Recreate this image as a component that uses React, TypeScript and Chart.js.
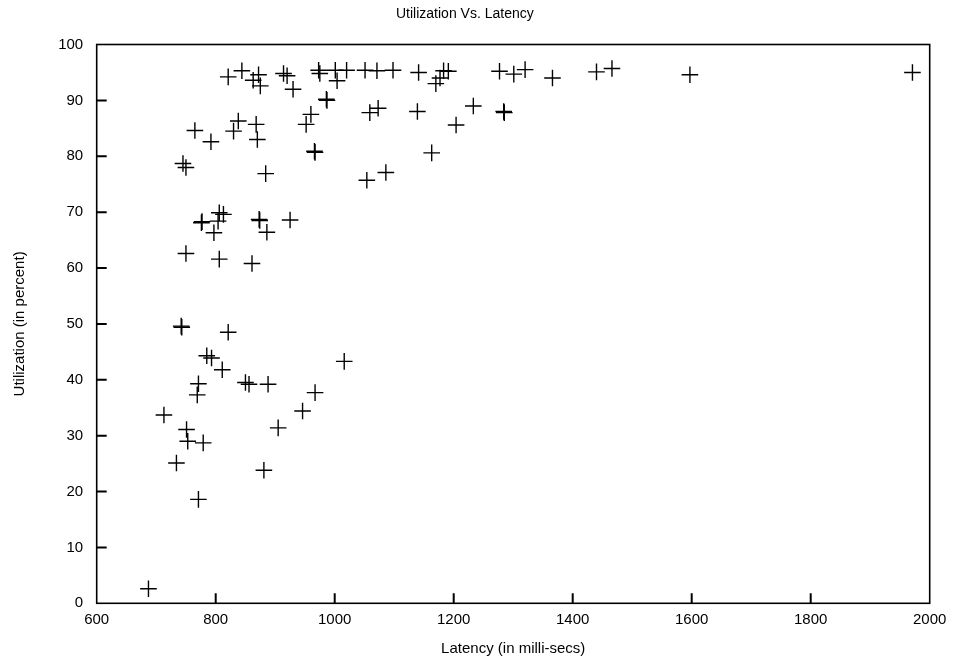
import { useEffect, useRef } from "react";
import { Chart, registerables } from "chart.js";

Chart.register(...registerables);

// Measured samples: request latency (ms) against server utilization (%)
const latencyMs = [
  821, 844, 863, 872, 875, 914, 920, 930, 973, 975, 1001, 1004, 1020, 1051, 1071,
  1098, 1141, 1170, 1177, 1183, 1191, 1277, 1301, 1320, 1366, 1440, 1466, 1597, 1971,
  986, 987, 765, 792, 838, 830, 868, 870, 960, 952, 1059, 1073, 1139, 1233, 1284, 1285,
  1204, 966, 967, 1163, 1054, 1086, 745, 750, 884,
  776, 777, 806, 813, 804, 797, 873, 874, 886, 925, 750, 806, 861,
  742, 743, 821, 785, 793, 811, 1016, 771, 769, 850, 856, 888, 967, 946,
  713, 751, 753, 779, 905, 734, 881, 771, 687,
];

const utilizationPct = [
  94.2, 95.3, 93.6, 94.6, 92.6, 94.8, 94.4, 92.0, 95.4, 94.8, 95.4, 93.5, 95.4, 95.4, 95.3,
  95.4, 95.0, 93.0, 94.0, 95.3, 95.2, 95.2, 94.7, 95.5, 94.0, 95.1, 95.7, 94.6, 95.0,
  90.2, 90.0, 84.6, 82.6, 86.3, 84.5, 85.7, 83.0, 87.5, 85.7, 87.8, 88.6, 88.0, 89.0, 88.0, 87.8,
  85.6, 80.9, 80.7, 80.6, 75.7, 77.1, 78.7, 78.0, 76.9,
  68.1, 68.3, 69.9, 69.6, 68.4, 66.3, 68.7, 68.5, 66.4, 68.6, 62.6, 61.6, 60.8,
  49.6, 49.4, 48.5, 44.3, 43.9, 41.8, 43.3, 39.3, 37.3, 39.5, 39.2, 39.2, 37.7, 34.4,
  33.7, 31.1, 29.0, 28.7, 31.4, 25.1, 23.8, 18.6, 2.6,
];

const xTickMin = 600;
const xTickMax = 2000;
const xTickStep = 200;
const yTickMin = 0;
const yTickMax = 100;
const yTickStep = 10;

const FONT = "'Liberation Sans', Arial, Helvetica, sans-serif";

// Plot frame plus short tick marks pointing into the plot on the left and bottom axes
const frameAndTicks = {
  id: "frameAndTicks",
  afterDatasetsDraw(chart: any) {
    const ctx: CanvasRenderingContext2D = chart.ctx;
    const a = chart.chartArea;
    const xs = chart.scales.x;
    const ys = chart.scales.y;
    ctx.save();
    ctx.strokeStyle = "#000";
    ctx.lineWidth = 1.6;
    ctx.strokeRect(a.left, a.top, a.right - a.left, a.bottom - a.top);
    ctx.lineWidth = 2;
    ctx.beginPath();
    for (let v = xTickMin + xTickStep; v < xTickMax; v += xTickStep) {
      const px = xs.getPixelForValue(v);
      ctx.moveTo(px, a.bottom);
      ctx.lineTo(px, a.bottom - 10);
    }
    for (let v = yTickMin + yTickStep; v < yTickMax; v += yTickStep) {
      const py = ys.getPixelForValue(v);
      ctx.moveTo(a.left, py);
      ctx.lineTo(a.left + 10, py);
    }
    ctx.stroke();
    ctx.restore();
  },
};

export default function App() {
  const canvasRef = useRef<HTMLCanvasElement | null>(null);

  useEffect(() => {
    document.body.style.margin = "0";
    const canvas = canvasRef.current;
    if (!canvas) return;

    const points = latencyMs.map((x, i) => ({ x, y: utilizationPct[i] }));

    const chart = new Chart(canvas, {
      type: "scatter",
      data: {
        datasets: [
          {
            label: "Utilization",
            data: points,
            pointStyle: "cross",
            pointRadius: 8.3,
            pointHoverRadius: 8.3,
            pointBorderWidth: 1.4,
            pointBorderColor: "#000",
            pointBackgroundColor: "#000",
            borderColor: "#000",
            backgroundColor: "#000",
          },
        ],
      },
      options: {
        animation: false,
        responsive: true,
        maintainAspectRatio: false,
        layout: { padding: { left: 0, right: 28.3, top: 0, bottom: 0 } },
        plugins: {
          legend: { display: false },
          tooltip: { enabled: false },
          title: {
            display: true,
            text: "Utilization Vs. Latency",
            color: "#000",
            font: { family: FONT, size: 14, weight: "normal" },
            padding: { top: 5.5, bottom: 22.2 },
          },
        },
        scales: {
          x: {
            type: "linear",
            min: xTickMin,
            max: xTickMax,
            afterFit(scale: any) {
              scale.height = 61.7;
            },
            ticks: {
              stepSize: xTickStep,
              color: "#000",
              padding: 8,
              font: { family: FONT, size: 15 },
              callback: (v: any) => String(v),
            },
            grid: { display: false, drawTicks: false },
            border: { display: false },
            title: {
              display: true,
              text: "Latency (in milli-secs)",
              color: "#000",
              font: { family: FONT, size: 15 },
              padding: { top: 4, bottom: 7.5 },
            },
          },
          y: {
            type: "linear",
            min: yTickMin,
            max: yTickMax,
            afterFit(scale: any) {
              scale.width = 96.7;
            },
            ticks: {
              stepSize: yTickStep,
              color: "#000",
              padding: 13.5,
              font: { family: FONT, size: 15 },
              callback: (v: any) => String(v),
            },
            grid: { display: false, drawTicks: false },
            border: { display: false },
            title: {
              display: true,
              text: "Utilization (in percent)",
              color: "#000",
              font: { family: FONT, size: 15 },
              padding: { top: 11, bottom: 4 },
            },
          },
        },
      },
      plugins: [frameAndTicks],
    });

    return () => chart.destroy();
  }, []);

  return (
    <div style={{ width: 958, height: 665, position: "relative", background: "#fff" }}>
      <canvas ref={canvasRef} />
    </div>
  );
}
